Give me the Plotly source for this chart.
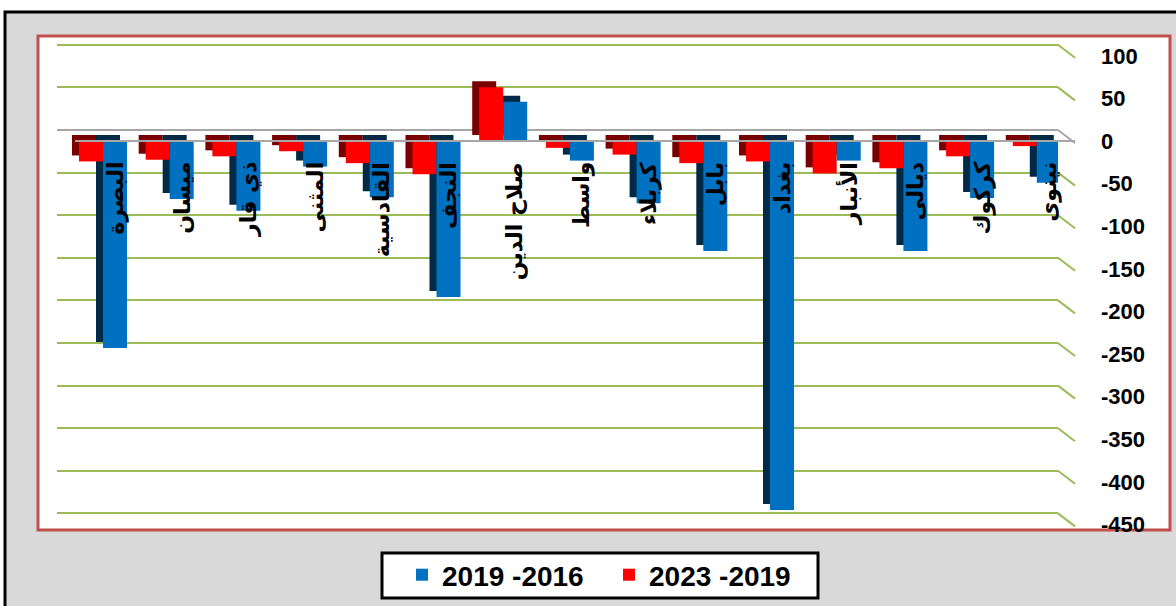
import plotly.graph_objects as go

# ---- data ----
governorates = ["البصرة", "ميسان", "ذي قار", "المثنى", "القادسية", "النجف", "صلاح الدين",
                "واسط", "كربلاء", "بابل", "بغداد", "الأنبار", "ديالى", "كركوك", "نينوى"]
change_2016_2019 = [-243, -68, -82, -30, -66, -183, 46, -23, -73, -129, -433, -23, -129, -67, -49]
change_2019_2023 = [-24, -22, -18, -12, -26, -39, 63, -8, -16, -26, -24, -38, -32, -18, -6]
series_names = ["2019 -2016", "2023 -2019"]
tick_values = [100, 50, 0, -50, -100, -150, -200, -250, -300, -350, -400, -450]
tick_labels = ["100", "50", "0", "-50", "-100", "-150", "-200", "-250", "-300", "-350", "-400", "-450"]

# ---- geometry (pixels) ----
W, H = 1176, 606
L, R, T, B = 57, 1058, 36, 528
PX_PER_UNIT = 0.852
CAT_PX = 66.7
pw, ph = R - L, B - T

def px_x(px):
    return (px - L) / pw

def px_y(py):
    return (B - py) / ph

bar_top = (141 - T) / PX_PER_UNIT
bar_range = [bar_top - ph / PX_PER_UNIT, bar_top]
grid_top = (130 - T) / PX_PER_UNIT
grid_range = [grid_top - ph / PX_PER_UNIT, grid_top]
x_start = -(103 - L) / CAT_PX
x_range = [x_start, x_start + pw / CAT_PX]

bw = 0.36
side = 7 / CAT_PX
depth = 6 / PX_PER_UNIT

RED, RED_D = "#ff0000", "#7a0000"
BLUE, BLUE_D = "#0070c0", "#012a47"

fig = go.Figure()
# dummy trace so the grid axis exists
fig.add_trace(go.Scatter(x=[governorates[0]], y=[0], yaxis="y2", mode="markers",
                         marker=dict(opacity=0), showlegend=False, hoverinfo="skip"))
# side faces (3D look)
fig.add_trace(go.Bar(x=governorates, y=change_2019_2023, base=depth, offset=-bw - side, width=bw,
                     marker=dict(color=RED_D, line=dict(width=0)), showlegend=False, hoverinfo="skip"))
fig.add_trace(go.Bar(x=governorates, y=change_2016_2019, base=depth, offset=-side, width=bw,
                     marker=dict(color=BLUE_D, line=dict(width=0)), showlegend=False, hoverinfo="skip"))
# front faces
fig.add_trace(go.Bar(x=governorates, y=change_2019_2023, offset=-bw, width=bw, name=series_names[1],
                     marker=dict(color=RED, line=dict(width=0)), legendrank=2))
fig.add_trace(go.Bar(x=governorates, y=change_2016_2019, offset=0, width=bw, name=series_names[0],
                     marker=dict(color=BLUE, line=dict(width=0)), legendrank=1))

shapes = [
    dict(type="rect", xref="paper", yref="paper", x0=px_x(5), y0=px_y(12), x1=1.3, y1=-0.3,
         fillcolor="#d9d9d9", line=dict(color="black", width=3), layer="below"),
    dict(type="rect", xref="paper", yref="paper", x0=px_x(38), y0=px_y(36), x1=px_x(1170), y1=px_y(530),
         fillcolor="white", line=dict(color="#c0504d", width=3), layer="below"),
    # legend frame
    dict(type="rect", xref="paper", yref="paper", x0=px_x(382), y0=px_y(553), x1=px_x(818), y1=px_y(598),
         fillcolor="white", line=dict(color="black", width=3), layer="below"),
    dict(type="line", xref="paper", yref="y", x0=px_x(75), x1=px_x(1075), y0=0, y1=0,
         line=dict(color="#a6a6a6", width=2), layer="above"),
]
slant = 13 / PX_PER_UNIT
for t in tick_values:
    shapes.append(dict(type="line", xref="paper", yref="y2", x0=1.0, x1=px_x(1075), y0=t, y1=t - slant,
                       line=dict(color="#a6a6a6" if t == 0 else "#9bbb59", width=2), layer="below"))

annotations = []
for g in governorates:
    annotations.append(dict(x=g, y=0, xref="x", yref="y", text=g, showarrow=False, textangle=-90,
                            xanchor="center", yanchor="top", xshift=12, yshift=-19,
                            font=dict(family="DejaVu Sans", size=22, color="black", weight="bold")))

fig.update_layout(
    width=W, height=H,
    margin=dict(l=L, r=W - R, t=T, b=H - B, autoexpand=False),
    paper_bgcolor="white", plot_bgcolor="white",
    barmode="overlay",
    showlegend=True,
    legend=dict(orientation="h", x=px_x(402), xanchor="left", y=px_y(550), yanchor="top",
                bgcolor="rgba(0,0,0,0)", borderwidth=0,
                font=dict(family="Liberation Sans, Arial", size=28, color="black", weight="bold"),
                itemwidth=30, entrywidth=162),
    xaxis=dict(type="category", range=x_range, showticklabels=False, showgrid=False,
               zeroline=False, showline=False, ticks=""),
    yaxis=dict(range=bar_range, side="right", tickvals=tick_values, ticktext=tick_labels,
               showgrid=False, zeroline=False, showline=False, ticks="", ticklabelstandoff=42,
               tickfont=dict(family="Liberation Sans, Arial", size=22, color="black", weight="bold")),
    yaxis2=dict(range=grid_range, overlaying="y", side="right", tickvals=tick_values,
                showticklabels=False, showgrid=True, gridcolor="#9bbb59", gridwidth=2,
                zeroline=True, zerolinecolor="#a6a6a6", zerolinewidth=2, showline=False, ticks=""),
    shapes=shapes,
    annotations=annotations,
)

fig.write_html("out.html", config={"displayModeBar": False},
               post_script="document.body.style.margin='0px';")
